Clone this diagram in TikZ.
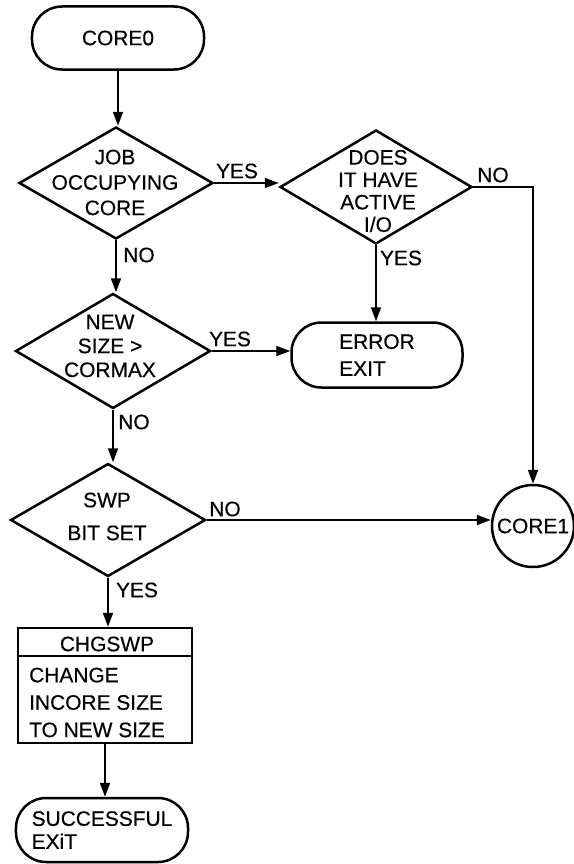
\documentclass[tikz,border=0pt]{standalone}
\usepackage{fontspec}
\setmainfont{Liberation Sans}[FakeBold=0.4]
\usetikzlibrary{shapes.geometric,arrows.meta}

\begin{document}
\begin{tikzpicture}[x=1bp,y=-1bp,
  every node/.style={font=\fontsize{21}{25.5}\selectfont, inner sep=0pt},
  outline/.style={draw, line width=2.5bp},
  termbox/.style={outline, rectangle, rounded corners=30bp, minimum height=63bp},
  decbox/.style={outline, diamond, minimum width=195bp, minimum height=113bp},
  procbox/.style={outline, rectangle},
  connbox/.style={outline, circle, minimum size=82bp},
  flowline/.style={line width=1.8bp, -{Triangle[length=14bp,width=10bp]}},
  lines/.style={font=\fontsize{21}{#1}\selectfont}
]
\useasboundingbox (0,0) rectangle (574,864);

% start terminal
\node[termbox, minimum width=172bp] (c0) at (118,38) {CORE0};

% decisions
\node[decbox, minimum width=194bp, minimum height=112bp] (d1) at (116,183) {};
\node[align=center, lines=25.5] (d1t) at (115,182.5) {JOB\\OCCUPYING\\CORE};

\node[decbox, minimum width=192bp, minimum height=114bp] (d2) at (376,187) {};
\node[align=center, lines=22.5] (d2t) at (378,191) {DOES\\IT HAVE\\ACTIVE\\I/O};

\node[decbox, minimum width=195bp, minimum height=115bp] (d3) at (113,351) {};
\node[align=center, lines=24] (d3t) at (110,346) {NEW\\SIZE >\\CORMAX};

\node[decbox, minimum width=195bp, minimum height=113bp] (d4) at (108,520) {};
\node[align=center, lines=33] (d4t) at (107,516.5) {SWP\\BIT SET};

% error exit
\node[termbox, minimum width=171bp, minimum height=65bp, align=left, lines=27] (err) at (377,355) {ERROR\\EXIT};

% off-page connector
\node[connbox] (core1) at (533,526) {CORE1};

% process box with header
\node[procbox, minimum width=174bp, minimum height=115bp] (box) at (105,685.5) {};
\draw[line width=2bp] ([yshift=-29bp]box.north west) -- ([yshift=-29bp]box.north east);
\node (boxh) at (107,644) {CHGSWP};
\node[anchor=west, align=left, lines=27.5] (boxb) at (29,702.5) {CHANGE\\INCORE SIZE\\TO NEW SIZE};

% successful exit
\node[termbox, minimum width=172bp, minimum height=64bp, align=left, lines=23] (succ) at (102,830) {SUCCESSFUL\\EXiT};

% connectors (kept straight: vertical or horizontal)
\draw[flowline] (c0.south) -- (c0.south |- d1.north);
\draw[flowline] (d1.east) -- (d1.east -| d2.west);
\draw[flowline] (d2.south) -- (d2.south |- err.north);
\draw[flowline] (d2.east) -| (core1.north);
\draw[flowline] (d1.south) -- (d1.south |- d3.north);
\draw[flowline] (d3.east) -- (d3.east -| err.west);
\draw[flowline] (d3.south) -- (d3.south |- d4.north);
\draw[flowline] (d4.east) -- (d4.east -| core1.west);
\draw[flowline] (d4.south) -- (d4.south |- box.north);
\draw[flowline] (box.south) -- (box.south |- succ.north);

% branch labels
\node (l1) at (237,171) {YES};
\node (l2) at (139,255) {NO};
\node (l3) at (493,175) {NO};
\node (l4) at (401,258) {YES};
\node (l5) at (230,339) {YES};
\node (l6) at (134,422) {NO};
\node (l7) at (225,509) {NO};
\node (l8) at (137,590) {YES};
\end{tikzpicture}
\end{document}
